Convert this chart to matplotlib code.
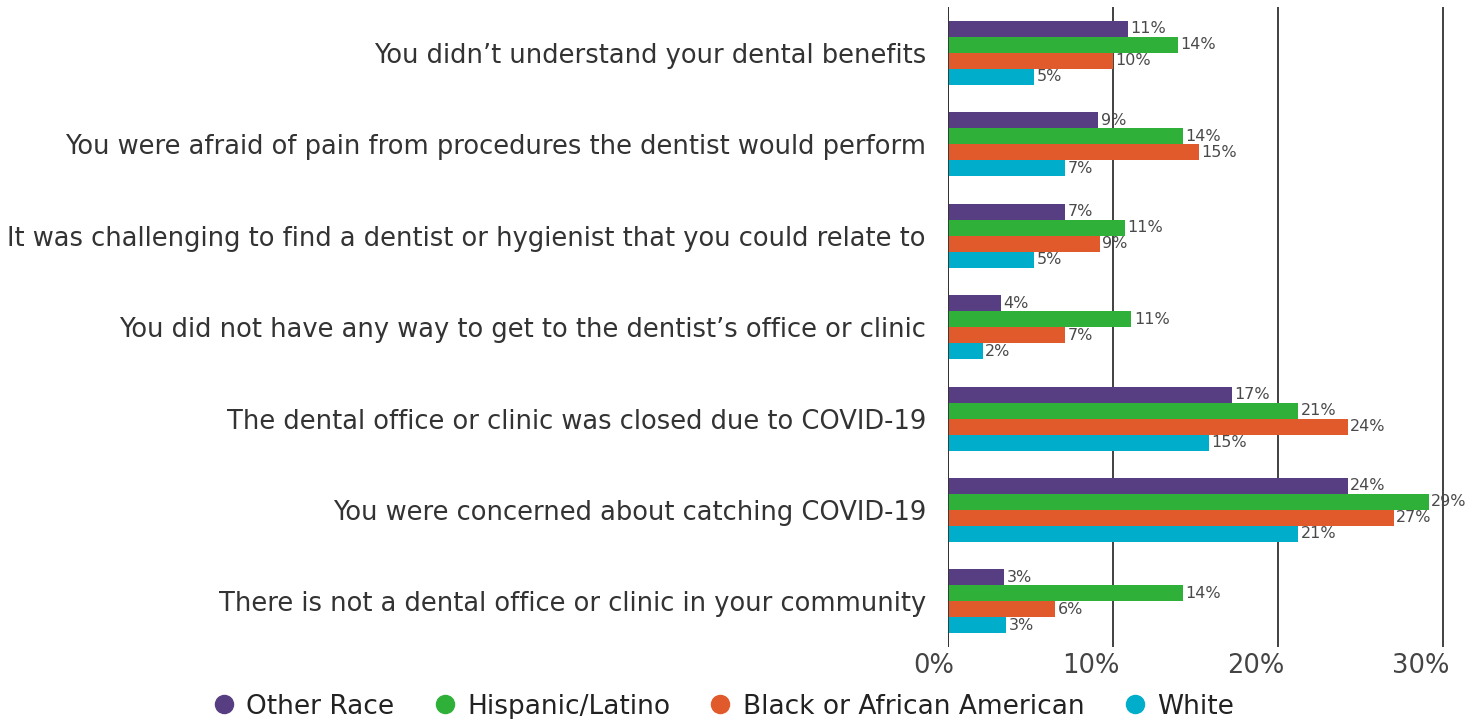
import numpy as np
import matplotlib.pyplot as plt
import matplotlib.transforms as mtransforms
from matplotlib.lines import Line2D

plt.rcParams['font.family'] = ['DejaVu Sans']

categories = [
    "You didn\u2019t understand your dental benefits",
    "You were afraid of pain from procedures the dentist would perform",
    "It was challenging to find a dentist or hygienist that you could relate to",
    "You did not have any way to get to the dentist\u2019s office or clinic",
    "The dental office or clinic was closed due to COVID-19",
    "You were concerned about catching COVID-19",
    "There is not a dental office or clinic in your community",
]
series = ["Other Race", "Hispanic/Latino", "Black or African American", "White"]
colors = ["#573D82", "#2FB139", "#E05A2C", "#00ADCA"]

# bar lengths, labels are the printed values
other = [10.9, 9.1, 7.1, 3.2, 17.2, 24.2, 3.4]
hispanic = [13.9, 14.2, 10.7, 11.1, 21.2, 29.1, 14.2]
black = [10.0, 15.2, 9.2, 7.1, 24.2, 27.0, 6.5]
white = [5.2, 7.1, 5.2, 2.1, 15.8, 21.2, 3.5]
labels = [
    [11, 9, 7, 4, 17, 24, 3],
    [14, 14, 11, 11, 21, 29, 14],
    [10, 15, 9, 7, 24, 27, 6],
    [5, 7, 5, 2, 15, 21, 3],
]
ticks = [0, 10, 20, 30]
tick_labels = ['0%', '10%', '20%', '30%']

fig = plt.figure(figsize=(14.83, 7.19), dpi=100)
ax = fig.add_axes([0.6393, 0.100, 0.3607, 0.89])

y = np.arange(len(categories))
h = 0.175
for i, vals in enumerate([other, hispanic, black, white]):
    pos = y - 1.5 * h + i * h
    ax.barh(pos, vals, height=h, color=colors[i], zorder=3)
    for p, v, lab in zip(pos, vals, labels[i]):
        ax.text(v + 0.15, p, f"{lab}%", va='center', ha='left',
                fontsize=11.5, color='#4a4a4a', zorder=4)

ax.set_ylim(len(categories) - 0.5, -0.5)
ax.set_xlim(0, 32.4)
ax.set_yticks(y)
ax.set_yticklabels(categories, fontsize=18.5, color='#333333')
ax.tick_params(axis='y', length=0, pad=16)
ax.set_xticks(ticks)
ax.set_xticklabels(tick_labels, fontsize=18.5, color='#444444', ha='right')
ax.tick_params(axis='x', length=0, pad=4)
shift = mtransforms.ScaledTranslation(6 / 100, 0, fig.dpi_scale_trans)
for t in ax.get_xticklabels():
    t.set_transform(t.get_transform() + shift)
ax.xaxis.grid(True, color='#333333', linewidth=1.3, zorder=0)
for s in ['top', 'right', 'bottom', 'left']:
    ax.spines[s].set_visible(False)
ax.axvline(0, color='#333333', linewidth=1.3, zorder=5)

handles = [Line2D([0], [0], marker='o', linestyle='', markersize=13,
                  markerfacecolor=c, markeredgecolor=c) for c in colors]
fig.legend(handles, series, loc='lower center', ncol=4, frameon=False,
           bbox_to_anchor=(0.488, -0.034), fontsize=19, handlelength=0.8,
           handletextpad=0.45, columnspacing=1.5, labelcolor='#222222')

fig.savefig('out.png', dpi=100)
